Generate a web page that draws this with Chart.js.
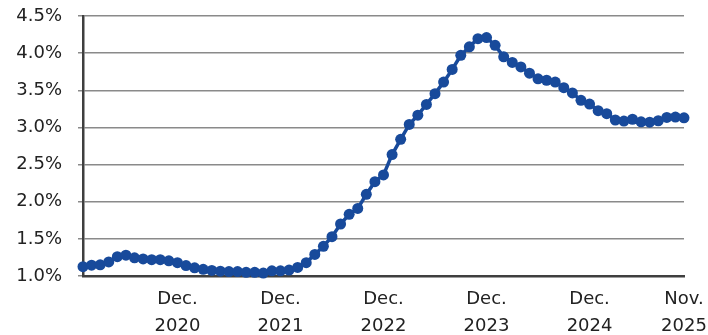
<!DOCTYPE html>
<html>
<head>
<meta charset="utf-8">
<script src="https://cdn.jsdelivr.net/npm/chart.js@4/dist/chart.umd.min.js"></script>
<style>
  html, body { margin: 0; padding: 0; background: #ffffff; }
  #wrap { width: 708px; height: 335px; position: relative; }
</style>
</head>
<body>
<div id="wrap"><canvas id="chart"></canvas></div>
<script>
// Monthly categories, January 2020 through November 2025
const years = [2020, 2021, 2022, 2023, 2024, 2025];
const monthNames = ['Jan', 'Feb', 'Mar', 'Apr', 'May', 'Jun', 'Jul', 'Aug', 'Sep', 'Oct', 'Nov', 'Dec'];
const categories = [];
years.forEach(y => monthNames.forEach(m => categories.push(m + ' ' + y)));
categories.splice(categories.indexOf('Nov 2025') + 1);

// Rate, in percent
const rateValues = [
  1.125, 1.145, 1.15, 1.19, 1.26, 1.28, 1.245, 1.23, 1.22, 1.22, 1.205, 1.18,
  1.14, 1.11, 1.09, 1.075, 1.065, 1.06, 1.06, 1.05, 1.05, 1.04, 1.07, 1.07,
  1.08, 1.115, 1.18, 1.29, 1.40, 1.53, 1.70, 1.83, 1.91, 2.10, 2.27, 2.36,
  2.635, 2.84, 3.04, 3.165, 3.31, 3.455, 3.61, 3.78, 3.97, 4.085, 4.195, 4.21,
  4.105, 3.95, 3.875, 3.815, 3.73, 3.655, 3.635, 3.61, 3.535, 3.465, 3.365, 3.315,
  3.225, 3.185, 3.10, 3.085, 3.11, 3.075, 3.07, 3.09, 3.135, 3.14, 3.13
];

// Categories that carry a visible axis label
const shownTicks = {
  'Dec 2020': ['Dec.', '2020'],
  'Dec 2021': ['Dec.', '2021'],
  'Dec 2022': ['Dec.', '2022'],
  'Dec 2023': ['Dec.', '2023'],
  'Dec 2024': ['Dec.', '2024'],
  'Nov 2025': ['Nov.', '2025']
};

const yMin = 1.0, yMax = 4.5, yStep = 0.5;
const lineColor = '#184a9b';
const fontFamily = '"DejaVu Sans", sans-serif';

new Chart(document.getElementById('chart'), {
  type: 'line',
  data: {
    labels: categories,
    datasets: [{
      data: rateValues,
      borderColor: lineColor,
      backgroundColor: lineColor,
      borderWidth: 3.5,
      pointRadius: 5.5,
      pointHoverRadius: 5.5,
      pointBorderWidth: 0,
      pointBackgroundColor: lineColor,
      tension: 0,
      clip: false
    }]
  },
  options: {
    responsive: true,
    maintainAspectRatio: false,
    animation: false,
    layout: { padding: { top: 16, right: 24, bottom: 0, left: 0 } },
    plugins: { legend: { display: false }, tooltip: { enabled: false } },
    scales: {
      x: {
        type: 'category',
        offset: false,
        grid: { display: false, drawTicks: false },
        border: { display: true, color: '#3f3f3f', width: 2.5 },
        // fixed axis band; edge labels are allowed to sit in the outer margin
        afterFit: s => { s.height = 59; s.paddingLeft = 0; s.paddingRight = 0; },
        ticks: {
          autoSkip: false,
          maxRotation: 0,
          minRotation: 0,
          padding: 10,
          color: '#222222',
          font: { family: fontFamily, size: 18, lineHeight: 1.5 },
          callback: function (value) {
            const label = this.getLabelForValue(value);
            return shownTicks[label] || '';
          }
        }
      },
      y: {
        min: yMin,
        max: yMax,
        afterFit: s => { s.width = 83; s.paddingTop = 0; s.paddingBottom = 0; },
        grid: { color: '#8a8a8a', lineWidth: 1.5, drawTicks: true, tickLength: 5, tickColor: '#8a8a8a' },
        border: { display: true, color: '#3f3f3f', width: 2.5 },
        ticks: {
          stepSize: yStep,
          padding: 16,
          color: '#222222',
          font: { family: fontFamily, size: 18 },
          callback: v => v.toFixed(1) + '%'
        }
      }
    }
  }
});
</script>
</body>
</html>
